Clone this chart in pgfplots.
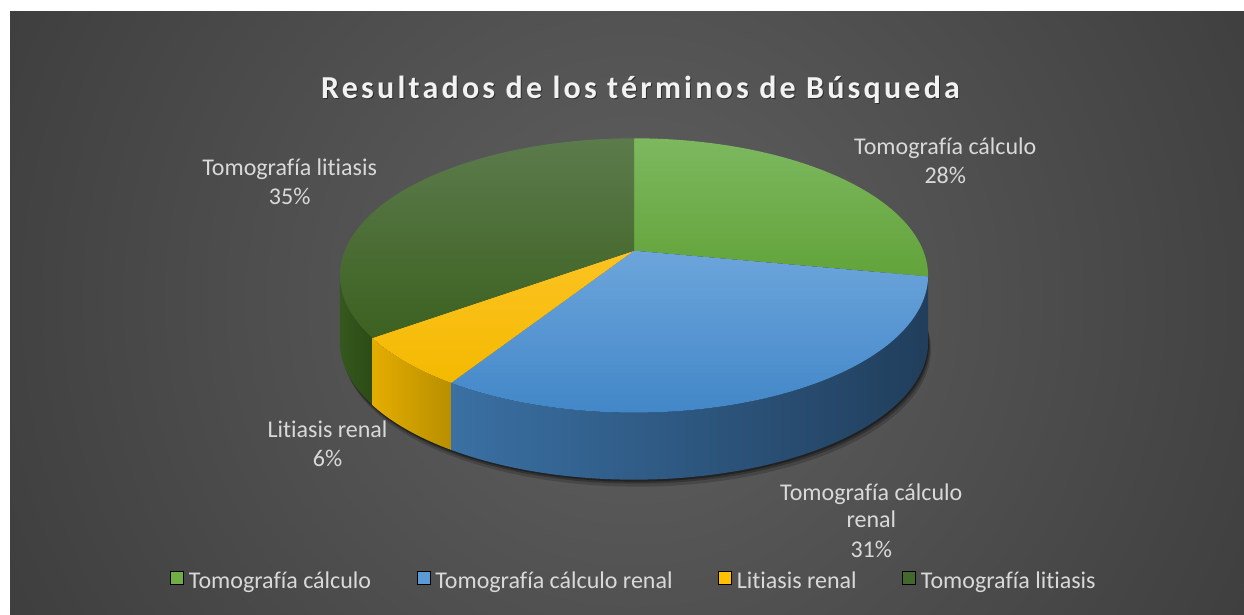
\documentclass[border=0pt]{standalone}
\usepackage{pgfplots}
\pgfplotsset{compat=1.18}
\usepackage{fontspec}
\setmainfont{Carlito}[Ligatures=CommonOff]
\newfontfamily\titlefont{Carlito}[LetterSpace=10,Ligatures=CommonOff]
\definecolor{bgc0}{HTML}{5B5B5B}
\definecolor{bgc1}{HTML}{1C1C1C}
\definecolor{txt}{HTML}{D9D9D9}
\definecolor{gA}{HTML}{70AD47}
\definecolor{bB}{HTML}{5B9BD5}
\definecolor{yC}{HTML}{FFC000}
\definecolor{dD}{HTML}{43682B}
\pgfdeclareradialshading{bgshade}{\pgfpoint{0bp}{0bp}}{color(0bp)=(bgc0); color(4bp)=(bgc0); color(50bp)=(bgc1)}
% data (percent)
\def\vA{28}\def\vB{31}\def\vC{6}\def\vD{35}
\pgfmathsetmacro\aA{90}
\pgfmathsetmacro\aB{\aA-3.6*\vA}
\pgfmathsetmacro\aC{\aB-3.6*\vB}
\pgfmathsetmacro\aD{\aC-3.6*\vC}
\pgfmathsetmacro\aE{\aD-3.6*\vD}
\pgfmathsetmacro\thR{-asin(0.1807)}
\pgfmathsetmacro\thL{-180+asin(0.1807)}
\begin{document}
\begin{tikzpicture}
\begin{axis}[
  scale only axis, width=622pt, height=307pt,
  xmin=0, xmax=1244, ymin=0, ymax=614, y dir=reverse,
  hide axis, clip=false,
  declare function={
    px(\t)=634+289.2*cos(\t)/(1+0.1807*sin(\t));
    py(\t)=250.7-132.7*sin(\t)/(1+0.1807*sin(\t));
    sa(\u,\s,\e)=(\u<=1.005) ? (\s+(\e-\s)*min(\u,1)) : (\e-(\e-\s)*min(max(\u-1.02,0),1));
    sd(\u)=(\u<=1.005) ? 0 : 67;
  },
  legend columns=4,
  legend image code/.code={\fill[#1] (0pt,-1.2pt) rectangle (6.5pt,5.3pt);},
  legend style={draw=none, fill=none, text=txt, font=\fontsize{12}{14}\selectfont,
    at={(axis cs:635,582)}, anchor=center, inner sep=0pt,
    /tikz/every even column/.append style={column sep=20.8pt},
    /tikz/every odd column/.append style={column sep=0.4pt}},
]
% background
\fill[white] (axis cs:0,0) rectangle (axis cs:1244,614);
\begin{scope}
\clip (axis cs:10,12) rectangle (axis cs:1244,614);
\shade[shading=bgshade] (axis cs:634,300) circle [radius=350pt];
\end{scope}
\addlegendimage{fill=gA}
\addlegendimage{fill=bB}
\addlegendimage{fill=yC}
\addlegendimage{fill=dD}
% shadow
\addplot[forget plot, draw=none, fill=black, fill opacity=0.18, domain=0:360, samples=120] ({px(x)+3},{py(x)+67+7});
\addplot[forget plot, draw=none, fill=black, fill opacity=0.25, domain=0:360, samples=120] ({px(x)+2},{py(x)+67+4});
\addplot[forget plot, draw=none, fill=black, fill opacity=0.35, domain=0:360, samples=120] ({px(x)+1},{py(x)+67+2});
% sides
\addplot[forget plot, draw=none, shading=axis, left color={rgb,255:red,52;green,88;blue,29}, right color={rgb,255:red,44;green,76;blue,22}, domain=0:2.02, samples=203]
  ({px(sa(x,\thL,\aD))},{py(sa(x,\thL,\aD))+sd(x)}) -- cycle;
\addplot[forget plot, draw=none, shading=axis, left color={rgb,255:red,228;green,173;blue,0}, right color={rgb,255:red,184;green,143;blue,0}, domain=0:2.02, samples=203]
  ({px(sa(x,\aD,\aC))},{py(sa(x,\aD,\aC))+sd(x)}) -- cycle;
\addplot[forget plot, draw=none, shading=axis, left color={rgb,255:red,58;green,112;blue,163}, middle color={rgb,255:red,40;green,82;blue,124}, right color={rgb,255:red,33;green,62;blue,92}, domain=0:2.02, samples=203]
  ({px(sa(x,\aC,\thR))},{py(sa(x,\aC,\thR))+sd(x)}) -- cycle;
% tops
\addplot[forget plot, draw=none, top color={rgb,255:red,125;green,184;blue,95}, bottom color={rgb,255:red,98;green,163;blue,58}, domain=\aB:\aA, samples=80]
  ({px(x)},{py(x)}) -- (axis cs:634,250.7) -- cycle;
\addplot[forget plot, draw=none, top color={rgb,255:red,108;green,165;blue,219}, bottom color={rgb,255:red,66;green,135;blue,200}, domain=\aC:\aB, samples=100]
  ({px(x)},{py(x)}) -- (axis cs:634,250.7) -- cycle;
\addplot[forget plot, draw=none, top color={rgb,255:red,252;green,195;blue,35}, bottom color={rgb,255:red,244;green,185;blue,0}, domain=\aD:\aC, samples=30]
  ({px(x)},{py(x)}) -- (axis cs:634,250.7) -- cycle;
\addplot[forget plot, draw=none, top color={rgb,255:red,92;green,123;blue,76}, bottom color={rgb,255:red,60;green,97;blue,32}, domain=\aE:\aD, samples=100]
  ({px(x)},{py(x)}) -- (axis cs:634,250.7) -- cycle;
\legend{Tomografía cálculo, Tomografía cálculo renal, Litiasis renal, Tomografía litiasis}
% title
\node[anchor=base, text=black, opacity=0.45] at (axis cs:641.5,100) {\titlefont\bfseries\fontsize{16}{19}\selectfont Resultados de los términos de Búsqueda};
\node[anchor=base, text={rgb,255:red,242;green,242;blue,242}] at (axis cs:640.5,99) {\titlefont\bfseries\fontsize{16}{19}\selectfont Resultados de los términos de Búsqueda};
% labels
\begin{scope}[every node/.style={anchor=base, text=txt, font=\fontsize{12}{14}\selectfont, inner sep=0pt}]
\node at (axis cs:945.3,155) {Tomografía cálculo};
\node at (axis cs:945.3,184) {28\%};
\node at (axis cs:289.7,176) {Tomografía litiasis};
\node at (axis cs:289.7,205) {35\%};
\node at (axis cs:327.5,437.3) {Litiasis renal};
\node at (axis cs:327.5,466) {6\%};
\node at (axis cs:871.3,500) {Tomografía cálculo};
\node at (axis cs:871.3,527.3) {renal};
\node at (axis cs:871.3,557) {31\%};
\end{scope}
\end{axis}
\end{tikzpicture}
\end{document}
